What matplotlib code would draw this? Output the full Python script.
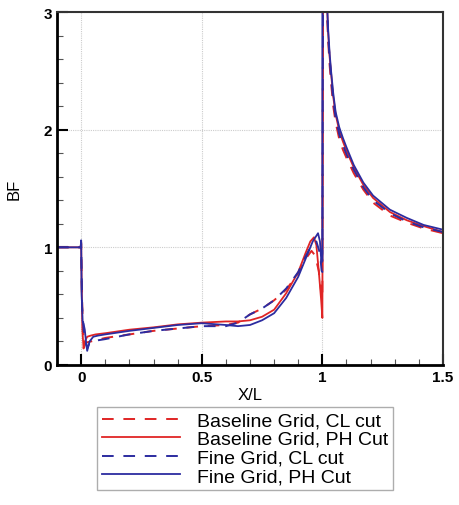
import numpy as np
import matplotlib
matplotlib.use("Agg")
import matplotlib.pyplot as plt
from matplotlib.ticker import MultipleLocator

plt.rcParams['font.family'] = ['Liberation Sans', 'DejaVu Sans']

# Baseline grid, centerline cut
base_cl_x = [-0.1, -0.002, 0.0, 0.003, 0.008, 0.012, 0.02, 0.04, 0.06, 0.1, 0.2, 0.3, 0.4, 0.5,
             0.6, 0.65, 0.7, 0.75, 0.8, 0.85, 0.9, 0.93, 0.955, 0.97, 0.985, 0.995, 1.0,
             1.003, 1.01, 1.018, 1.024, 1.03, 1.036, 1.045, 1.055, 1.07, 1.085, 1.1, 1.13,
             1.17, 1.21, 1.28, 1.35, 1.42, 1.5]
base_cl_y = [1.0, 1.0, 1.03, 0.6, 0.3, 0.16, 0.19, 0.2, 0.21, 0.23, 0.26, 0.29, 0.31, 0.33,
             0.34, 0.36, 0.43, 0.48, 0.55, 0.64, 0.78, 0.9, 0.97, 0.93, 0.8, 0.62, 0.56,
             3.6, 3.4, 3.05, 2.75, 2.55, 2.4, 2.2, 2.06, 1.92, 1.83, 1.76, 1.63,
             1.49, 1.38, 1.27, 1.21, 1.16, 1.12]

# Baseline grid, PH cut
base_ph_x = [-0.1, -0.002, 0.0, 0.002, 0.005, 0.01, 0.015, 0.025, 0.04, 0.06, 0.1, 0.2, 0.3, 0.4,
             0.5, 0.6, 0.65, 0.7, 0.75, 0.8, 0.85, 0.9, 0.93, 0.95, 0.965, 0.975, 0.985,
             0.995, 1.0, 1.003, 1.01, 1.018, 1.024, 1.03, 1.036, 1.045, 1.055, 1.07, 1.085,
             1.1, 1.13, 1.17, 1.21, 1.28, 1.35, 1.42, 1.5]
base_ph_y = [1.0, 1.0, 1.05, 0.7, 0.3, 0.14, 0.2, 0.24, 0.25, 0.26, 0.27, 0.3, 0.32, 0.345,
             0.36, 0.37, 0.37, 0.38, 0.41, 0.47, 0.61, 0.79, 0.95, 1.05, 1.085, 1.02, 0.8,
             0.55, 0.4, 3.6, 3.45, 3.12, 2.82, 2.62, 2.48, 2.28, 2.13, 1.99, 1.9,
             1.82, 1.68, 1.53, 1.42, 1.3, 1.23, 1.18, 1.13]

# Fine grid, centerline cut
fine_cl_x = [-0.1, -0.002, 0.0, 0.004, 0.01, 0.018, 0.025, 0.035, 0.05, 0.07, 0.1, 0.2, 0.3, 0.4,
             0.5, 0.6, 0.65, 0.7, 0.75, 0.8, 0.85, 0.9, 0.93, 0.955, 0.975, 0.99, 0.997,
             1.0, 1.003, 1.01, 1.018, 1.024, 1.03, 1.036, 1.045, 1.055, 1.07, 1.085, 1.1,
             1.13, 1.17, 1.21, 1.28, 1.35, 1.42, 1.5]
fine_cl_y = [1.0, 1.0, 1.04, 0.5, 0.3, 0.2, 0.14, 0.19, 0.2, 0.21, 0.22, 0.26, 0.29, 0.31,
             0.33, 0.33, 0.36, 0.43, 0.48, 0.55, 0.65, 0.79, 0.92, 1.02, 1.05, 0.95, 0.8,
             0.79, 3.6, 3.45, 3.1, 2.8, 2.6, 2.45, 2.25, 2.1, 1.96, 1.87, 1.79,
             1.66, 1.51, 1.4, 1.29, 1.22, 1.17, 1.13]

# Fine grid, PH cut
fine_ph_x = [-0.1, -0.002, 0.0, 0.002, 0.006, 0.01, 0.015, 0.02, 0.025, 0.035, 0.05, 0.07, 0.1,
             0.2, 0.3, 0.4, 0.5, 0.6, 0.65, 0.7, 0.75, 0.8, 0.85, 0.9, 0.93, 0.96, 0.982,
             0.99, 0.996, 1.0, 1.0, 1.01, 1.018, 1.024, 1.03, 1.036, 1.045, 1.055, 1.07,
             1.085, 1.1, 1.13, 1.17, 1.21, 1.28, 1.35, 1.42, 1.5]
fine_ph_y = [1.0, 1.0, 1.06, 0.6, 0.37, 0.35, 0.3, 0.2, 0.12, 0.2, 0.24, 0.25, 0.26,
             0.29, 0.315, 0.34, 0.355, 0.34, 0.33, 0.34, 0.38, 0.44, 0.57, 0.75, 0.9, 1.05, 1.12,
             1.05, 0.87, 0.95, 3.6, 3.5, 3.15, 2.85, 2.65, 2.5, 2.31, 2.15, 2.02,
             1.93, 1.85, 1.7, 1.55, 1.44, 1.32, 1.25, 1.19, 1.15]

red = '#e02525'
blue = '#2c2ca0'

fig = plt.figure(figsize=(4.6, 5.06), dpi=100)
ax = fig.add_axes([0.124, 0.2767, 0.839, 0.6976])

ax.plot(base_cl_x, base_cl_y, color=red, lw=1.4, dashes=(6, 5), label='Baseline Grid, CL cut')
ax.plot(base_ph_x, base_ph_y, color=red, lw=1.3, label='Baseline Grid, PH Cut')
ax.plot(fine_cl_x, fine_cl_y, color=blue, lw=1.4, dashes=(6, 5), label='Fine Grid, CL cut')
ax.plot(fine_ph_x, fine_ph_y, color=blue, lw=1.3, label='Fine Grid, PH Cut')

ax.set_xlim(-0.1, 1.5)
ax.set_ylim(0, 3)
ax.xaxis.set_major_locator(MultipleLocator(0.5))
ax.xaxis.set_minor_locator(MultipleLocator(0.1))
ax.yaxis.set_major_locator(MultipleLocator(1))
ax.yaxis.set_minor_locator(MultipleLocator(0.2))
ax.set_xticks([0, 0.5, 1, 1.5])
ax.set_xticklabels(['0', '0.5', '1', '1.5'])
ax.tick_params(which='major', direction='in', length=8, width=1.5, labelsize=11)
ax.tick_params(which='minor', direction='in', length=4, width=0.8, color='#555555')
for lbl in ax.get_xticklabels() + ax.get_yticklabels():
    lbl.set_fontweight('bold')

ax.grid(True, which='major', color='#cccccc', lw=0.8, ls=(0, (1, 1)))

ax.spines['left'].set_linewidth(2)
ax.spines['bottom'].set_linewidth(2)
ax.spines['top'].set_linewidth(1.5)
ax.spines['right'].set_linewidth(1.5)
ax.spines['top'].set_color('#333333')
ax.spines['right'].set_color('#333333')

ax.set_xlabel('X/L', fontsize=12, labelpad=2)
ax.set_ylabel('BF', fontsize=12, labelpad=16)

fig.legend(loc='upper left', bbox_to_anchor=(0.211, 0.194), borderaxespad=0, fontsize=14,
           handlelength=4.0, frameon=True, fancybox=False, edgecolor='#999999',
           borderpad=0.25, labelspacing=0.05, handletextpad=0.9)

fig.savefig('out.png', dpi=100)
